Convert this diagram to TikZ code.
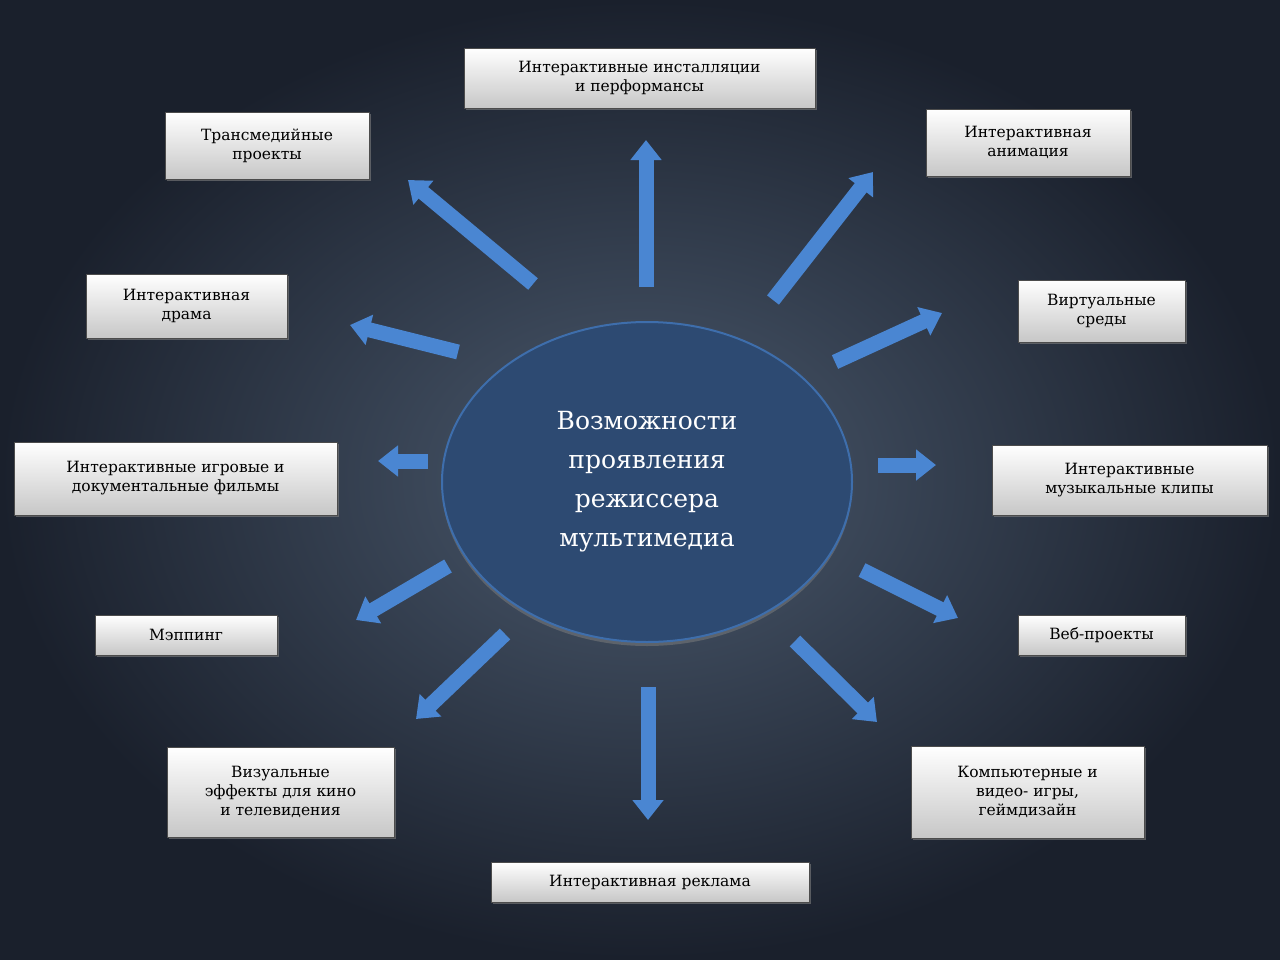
\documentclass[tikz,border=0pt]{standalone}
\usepackage{fontspec}
\setmainfont{DejaVu Serif}
\usetikzlibrary{arrows.meta,shadows,shapes.geometric}
\definecolor{bgin}{HTML}{4B5A6E}
\definecolor{bgout}{HTML}{1A202C}
\definecolor{arr}{HTML}{4A86D2}
\definecolor{ell}{HTML}{2D4A72}
\tikzset{
  lbl/.style={draw=black!70,line width=0.8pt,top color=white,bottom color=black!22,
    align=center,font=\fontsize{15.5}{19}\selectfont,inner sep=0pt,
    drop shadow={shadow xshift=2pt,shadow yshift=-2pt,opacity=0.6}},
  barrow/.style={line width=15pt,draw=arr,-{Triangle[width=30pt,length=20pt]}}
}
\newcommand{\bx}[5]{\node[lbl,minimum width=#3-#1,minimum height=#4-#2] (#5) at ({(#1+#3)/2},{(#2+#4)/2})}
\begin{document}
\begin{tikzpicture}[x=1pt,y=-1pt]
\shade[inner color=bgin,outer color=bgout] (0,0) rectangle (1280,959);
\useasboundingbox (0,0) rectangle (1280,959);
\node[ellipse,draw=arr!60!ell,line width=2pt,fill=ell,minimum width=410,minimum height=320,
  drop shadow={shadow xshift=0pt,shadow yshift=-4pt,opacity=0.5},text=white,align=center,
  font=\fontsize{25}{39}\selectfont] (c) at (647,482)
  {Возможности\\проявления\\режиссера\\мультимедиа};
\bx{464}{48}{815}{108}{b1} {Интерактивные инсталляции\\и перформансы};
\bx{926}{109}{1130}{176}{b2} {Интерактивная\\анимация};
\bx{1018}{280}{1185}{342}{b3} {Виртуальные\\среды};
\bx{992}{445}{1267}{515}{b4} {Интерактивные\\музыкальные клипы};
\bx{1018}{615}{1185}{655}{b5} {Веб-проекты};
\bx{911}{746}{1144}{838}{b6} {Компьютерные и\\видео- игры,\\геймдизайн};
\bx{491}{862}{809}{902}{b7} {Интерактивная реклама};
\bx{167}{747}{394}{837}{b8} {Визуальные\\эффекты для кино\\и телевидения};
\bx{95}{615}{277}{655}{b9} {Мэппинг};
\bx{14}{442}{337}{515}{b10} {Интерактивные игровые и\\документальные фильмы};
\bx{86}{274}{287}{338}{b11} {Интерактивная\\драма};
\bx{165}{112}{369}{179}{b12} {Трансмедийные\\проекты};
\foreach \a/\b/\c/\d in {646/287/646/140, 773/300/873/172, 835/362/942/313, 878/465/936/465,
  862/570/958/618, 795/641/877/722, 648/687/648/820, 505/634/416/719, 448/566/356/620,
  428/461/378/461, 458/352/350/325, 533/284/408/180}
  \draw[barrow] (\a,\b) -- (\c,\d);
\end{tikzpicture}
\end{document}
